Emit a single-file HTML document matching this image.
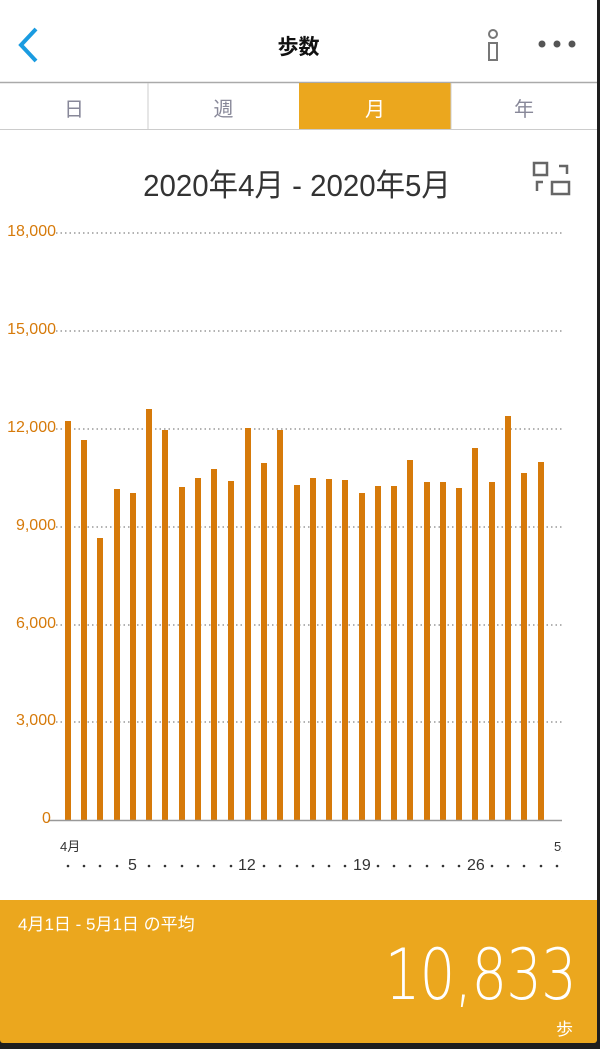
<!DOCTYPE html>
<html><head><meta charset="utf-8"><style>
body{margin:0;width:600px;height:1049px;background:#1e1e1e;position:relative;overflow:hidden;font-family:"Liberation Sans","Noto Sans CJK JP",sans-serif;}
#w{position:absolute;left:0;top:0;width:597px;height:900px;background:#fff;}
.t{position:absolute;white-space:nowrap;}
</style></head><body>
<div id="w"></div>
<svg style="position:absolute;left:0;top:0" width="600" height="900">
<path d="M36 29 L21 45 L36 61" fill="none" stroke="#1a9be0" stroke-width="4"/>
<circle cx="493" cy="34" r="4" fill="none" stroke="#777" stroke-width="2"/>
<rect x="489" y="43" width="8" height="17" fill="none" stroke="#777" stroke-width="2"/>
<circle cx="542" cy="44" r="3.5" fill="#555"/><circle cx="557" cy="44" r="3.5" fill="#555"/><circle cx="572" cy="44" r="3.5" fill="#555"/>
<line x1="0" y1="82.5" x2="597" y2="82.5" stroke="#aaa" stroke-width="1.5"/>
<rect x="299" y="83" width="152" height="46" fill="#eba71e"/>
<line x1="148" y1="83" x2="148" y2="129" stroke="#ccc"/>
<line x1="451" y1="83" x2="451" y2="129" stroke="#ccc"/>
<line x1="0" y1="129.5" x2="597" y2="129.5" stroke="#ccc"/>
<g fill="none" stroke="#666" stroke-width="2.5">
<path d="M534 163h13v12h-13z M552 182h17v12h-17z"/>
<path d="M559 166h8v8 M537 191v-9h6"/>
</g>
<g stroke="#666" stroke-dasharray="1.5 3" stroke-width="1">
<line x1="56" y1="233" x2="562" y2="233"/><line x1="56" y1="331" x2="562" y2="331"/>
<line x1="56" y1="429" x2="562" y2="429"/><line x1="56" y1="527" x2="562" y2="527"/>
<line x1="56" y1="625" x2="562" y2="625"/><line x1="56" y1="722" x2="562" y2="722"/>
</g>
<g fill="#d67a0a">
<rect x="65" y="421" width="6" height="399"/><rect x="81" y="440" width="6" height="380"/>
<rect x="97" y="538" width="6" height="282"/><rect x="114" y="489" width="6" height="331"/>
<rect x="130" y="493" width="6" height="327"/><rect x="146" y="409" width="6" height="411"/>
<rect x="162" y="430" width="6" height="390"/><rect x="179" y="487" width="6" height="333"/>
<rect x="195" y="478" width="6" height="342"/><rect x="211" y="469" width="6" height="351"/>
<rect x="228" y="481" width="6" height="339"/><rect x="245" y="428" width="6" height="392"/>
<rect x="261" y="463" width="6" height="357"/><rect x="277" y="430" width="6" height="390"/>
<rect x="294" y="485" width="6" height="335"/><rect x="310" y="478" width="6" height="342"/>
<rect x="326" y="479" width="6" height="341"/><rect x="342" y="480" width="6" height="340"/>
<rect x="359" y="493" width="6" height="327"/><rect x="375" y="486" width="6" height="334"/>
<rect x="391" y="486" width="6" height="334"/><rect x="407" y="460" width="6" height="360"/>
<rect x="424" y="482" width="6" height="338"/><rect x="440" y="482" width="6" height="338"/>
<rect x="456" y="488" width="6" height="332"/><rect x="472" y="448" width="6" height="372"/>
<rect x="489" y="482" width="6" height="338"/><rect x="505" y="416" width="6" height="404"/>
<rect x="521" y="473" width="6" height="347"/><rect x="538" y="462" width="6" height="358"/>
</g>
<line x1="48" y1="820.5" x2="562" y2="820.5" stroke="#999" stroke-width="1.5"/>
<g fill="#333">
<circle cx="68" cy="866" r="1.3"/><circle cx="84" cy="866" r="1.3"/><circle cx="100" cy="866" r="1.3"/><circle cx="117" cy="866" r="1.3"/>
<circle cx="149" cy="866" r="1.3"/><circle cx="165" cy="866" r="1.3"/><circle cx="182" cy="866" r="1.3"/><circle cx="198" cy="866" r="1.3"/><circle cx="214" cy="866" r="1.3"/><circle cx="231" cy="866" r="1.3"/>
<circle cx="264" cy="866" r="1.3"/><circle cx="280" cy="866" r="1.3"/><circle cx="297" cy="866" r="1.3"/><circle cx="313" cy="866" r="1.3"/><circle cx="329" cy="866" r="1.3"/><circle cx="345" cy="866" r="1.3"/>
<circle cx="378" cy="866" r="1.3"/><circle cx="394" cy="866" r="1.3"/><circle cx="410" cy="866" r="1.3"/><circle cx="427" cy="866" r="1.3"/><circle cx="443" cy="866" r="1.3"/><circle cx="459" cy="866" r="1.3"/>
<circle cx="492" cy="866" r="1.3"/><circle cx="508" cy="866" r="1.3"/><circle cx="524" cy="866" r="1.3"/><circle cx="541" cy="866" r="1.3"/><circle cx="557" cy="866" r="1.3"/>
</g>
</svg>
<div class="t" style="left:0;width:597px;top:31px;text-align:center;font-size:21px;font-weight:bold;color:#111">歩数</div>
<div class="t" style="left:0;width:148px;top:93px;text-align:center;font-size:20px;color:#889">日</div>
<div class="t" style="left:148px;width:151px;top:93px;text-align:center;font-size:20px;color:#889">週</div>
<div class="t" style="left:299px;width:152px;top:93px;text-align:center;font-size:20px;color:#fff">月</div>
<div class="t" style="left:451px;width:146px;top:93px;text-align:center;font-size:20px;color:#889">年</div>
<div class="t" style="left:0;width:594px;top:160px;text-align:center;font-size:31px;color:#333;transform:scaleX(0.95)">2020年4月 - 2020年5月</div>
<div style="position:absolute;left:0;top:223px;width:56px;font-size:16px;color:#d67a0a;line-height:18px">
<div class="t" style="right:0;top:0">18,000</div><div class="t" style="right:0;top:98px">15,000</div><div class="t" style="right:0;top:196px">12,000</div>
<div class="t" style="right:0;top:294px">9,000</div><div class="t" style="right:0;top:392px">6,000</div><div class="t" style="right:0;top:489px">3,000</div>
<div class="t" style="left:42px;top:587px">0</div></div>
<div class="t" style="left:60px;top:836px;font-size:13px;color:#333">4月</div>
<div class="t" style="left:554px;top:836px;font-size:13px;color:#333;width:8px;overflow:hidden">5月</div>
<div class="t" style="left:128px;top:857px;font-size:16px;color:#333">5</div>
<div class="t" style="left:238px;top:857px;font-size:16px;color:#333">12</div>
<div class="t" style="left:353px;top:857px;font-size:16px;color:#333">19</div>
<div class="t" style="left:467px;top:857px;font-size:16px;color:#333">26</div>
<div style="position:absolute;left:0;top:900px;width:597px;height:143px;background:#eba71e;border-radius:0 0 3px 3px"></div>
<div class="t" style="left:18px;top:910px;font-size:17px;color:#fff">4月1日 - 5月1日 の平均</div>
<div class="t" style="right:24px;top:934px;font-size:70px;font-weight:100;color:#fff;letter-spacing:-1px;font-family:'DejaVu Sans','Liberation Sans',sans-serif;transform:scaleX(0.8);transform-origin:right">10,833</div>
<div class="t" style="left:556px;top:1015px;font-size:17px;color:#fff">歩</div>
</body></html>
